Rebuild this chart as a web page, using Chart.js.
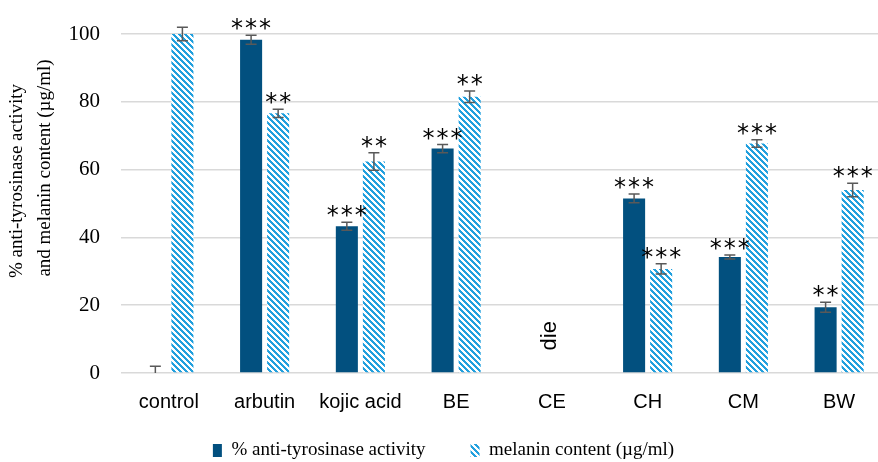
<!DOCTYPE html>
<html>
<head>
<meta charset="utf-8">
<script src="https://cdn.jsdelivr.net/npm/chart.js@4.4.1/dist/chart.umd.min.js"></script>
<style>
  html, body { margin: 0; padding: 0; background: #fff; overflow: hidden; }
  #wrap { width: 890px; height: 462px; }
</style>
</head>
<body>
<div id="wrap"><canvas id="chart" width="890" height="462"></canvas></div>
<script>
// data
const categories = ['control', 'arbutin', 'kojic acid', 'BE', 'CE', 'CH', 'CM', 'BW'];
const tyrosinase = [0, 98.3, 43.3, 66.2, null, 51.5, 34.2, 19.4];
const tyrosinaseErr = [2, 1.3, 1.2, 1.2, null, 1.3, 0.6, 1.5];
const melanin = [100, 76.6, 62.4, 81.5, null, 30.7, 67.7, 54];
const melaninErr = [2, 1.2, 2.6, 1.7, null, 1.5, 1.1, 2];
const tyrosinaseSig = ['', '***', '***', '***', '', '***', '***', '**'];
const melaninSig = ['', '**', '**', '**', '', '***', '***', '***'];
const notes = ['', '', '', '', 'die', '', '', ''];
const yTicks = [0, 20, 40, 60, 80, 100];

const DARK = '#02507f';
const LIGHT = '#22a0de';

function hatch(color) {
  const c = document.createElement('canvas');
  c.width = 6; c.height = 6;
  const g = c.getContext('2d');
  g.fillStyle = '#fff';
  g.fillRect(0, 0, 6, 6);
  g.fillStyle = color;
  for (let y = 0; y < 6; y++) {
    for (let x = 0; x < 6; x++) {
      if (((x - y) % 6 + 6) % 6 < 3) g.fillRect(x, y, 1, 1);
    }
  }
  return g.createPattern(c, 'repeat');
}

// error bars, significance stars and the "die" note
const annotate = {
  id: 'annotate',
  afterDatasetsDraw(chart) {
    const ctx = chart.ctx;
    const ys = chart.scales.y, xs = chart.scales.x, area = chart.chartArea;
    const sets = [[tyrosinase, tyrosinaseErr, tyrosinaseSig], [melanin, melaninErr, melaninSig]];
    sets.forEach(([vals, errs, sig], d) => {
      chart.getDatasetMeta(d).data.forEach((bar, i) => {
        if (vals[i] == null) return;
        const top = ys.getPixelForValue(vals[i] + errs[i]);
        const bot = ys.getPixelForValue(vals[i] - errs[i]);
        ctx.save();
        ctx.beginPath();
        ctx.rect(area.left, 0, area.right - area.left, area.bottom);
        ctx.clip();
        ctx.strokeStyle = '#595959';
        ctx.lineWidth = 1.5;
        ctx.beginPath();
        ctx.moveTo(bar.x, top); ctx.lineTo(bar.x, bot);
        ctx.moveTo(bar.x - 5.5, top); ctx.lineTo(bar.x + 5.5, top);
        ctx.moveTo(bar.x - 5.5, bot); ctx.lineTo(bar.x + 5.5, bot);
        ctx.stroke();
        ctx.restore();
        if (sig[i]) {
          ctx.save();
          ctx.fillStyle = '#000';
          ctx.font = '24px "DejaVu Sans", sans-serif';
          ctx.textAlign = 'center';
          ctx.textBaseline = 'alphabetic';
          const n = sig[i].length;
          for (let k = 0; k < n; k++) {
            ctx.fillText('*', bar.x + (k - (n - 1) / 2) * 14, top + 1);
          }
          ctx.restore();
        }
      });
    });
    notes.forEach((t, i) => {
      if (!t) return;
      ctx.save();
      ctx.translate(xs.getPixelForValue(i) - 2, ys.getPixelForValue(11));
      ctx.rotate(-Math.PI / 2);
      ctx.fillStyle = '#000';
      ctx.font = '22px "Liberation Sans", Arial, sans-serif';
      ctx.textAlign = 'center';
      ctx.textBaseline = 'middle';
      ctx.fillText(t, 0, 0);
      ctx.restore();
    });
  },
  afterDraw(chart) {
    // two-line y axis title
    const ctx = chart.ctx;
    ctx.save();
    ctx.fillStyle = '#000';
    ctx.font = '19px "Liberation Serif", "Times New Roman", serif';
    ctx.textAlign = 'center';
    ctx.textBaseline = 'middle';
    [['% anti-tyrosinase activity', 17, 181], ['and melanin content (µg/ml)', 45, 168]].forEach(([t, x, y]) => {
      ctx.save();
      ctx.translate(x, y);
      ctx.rotate(-Math.PI / 2);
      ctx.fillText(t, 0, 0);
      ctx.restore();
    });
    ctx.restore();
  }
};

new Chart(document.getElementById('chart'), {
  type: 'bar',
  data: {
    labels: categories,
    datasets: [{
      label: '% anti-tyrosinase activity',
      data: tyrosinase,
      backgroundColor: DARK,
      borderWidth: 0,
      categoryPercentage: 0.565,
      barPercentage: 0.815
    }, {
      label: 'melanin content (µg/ml)',
      data: melanin,
      backgroundColor: hatch(LIGHT),
      borderWidth: 0,
      categoryPercentage: 0.565,
      barPercentage: 0.815
    }]
  },
  options: {
    responsive: false,
    animation: false,
    layout: { padding: { top: 34, right: 3, left: 0, bottom: 0 } },
    plugins: {
      tooltip: { enabled: false },
      legend: {
        position: 'bottom',
        maxHeight: 66,
        labels: {
          boxWidth: 9,
          boxHeight: 13,
          padding: 45,
          color: '#000',
          font: { family: '"Liberation Serif", "Times New Roman", serif', size: 19 }
        }
      }
    },
    scales: {
      x: {
        grid: { display: false },
        border: { display: false },
        ticks: {
          color: '#000',
          mirror: true,
          padding: -41,
          font: { family: '"Liberation Sans", Arial, sans-serif', size: 20 }
        },
        afterFit(s) { s.height = 23; }
      },
      y: {
        min: 0,
        max: 100,
        afterBuildTicks(s) { s.ticks = yTicks.map(v => ({ value: v })); },
        grid: { color: '#d9d9d9', lineWidth: 1.5, drawTicks: false },
        border: { display: false },
        ticks: {
          color: '#000',
          padding: 21,
          font: { family: '"Liberation Serif", "Times New Roman", serif', size: 21 }
        },
        afterFit(s) { s.width = 121; }
      }
    }
  },
  plugins: [annotate]
});
</script>
</body>
</html>
